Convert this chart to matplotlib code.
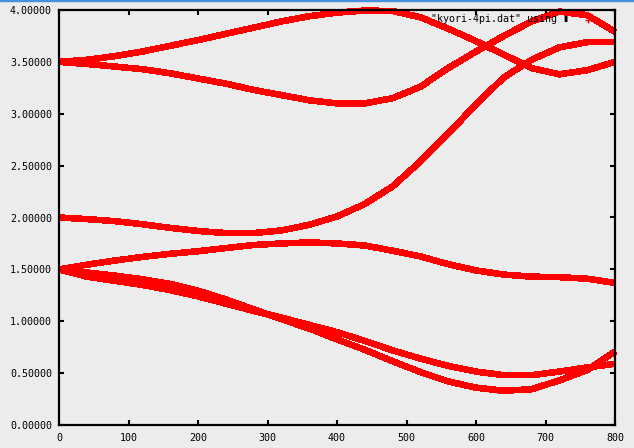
import matplotlib
matplotlib.use("Agg")
import matplotlib.pyplot as plt
from matplotlib.patches import Rectangle

# x grid of the readings (same for every curve)
x = [0, 40, 80, 120, 160, 200, 240, 280, 320, 360, 400,
     440, 480, 520, 560, 600, 640, 680, 720, 760, 800]

# curves starting at 3.5
upper_a = [3.50, 3.52, 3.555, 3.60, 3.655, 3.71, 3.77, 3.83, 3.89, 3.94, 3.975,
           3.995, 3.99, 3.93, 3.82, 3.70, 3.57, 3.44, 3.38, 3.42, 3.50]
upper_b = [3.50, 3.48, 3.455, 3.43, 3.39, 3.34, 3.29, 3.23, 3.18, 3.13, 3.10,
           3.10, 3.15, 3.26, 3.44, 3.60, 3.75, 3.89, 3.985, 3.95, 3.79]
# curve starting at 2.0
mid_c = [2.00, 1.985, 1.965, 1.935, 1.90, 1.87, 1.85, 1.85, 1.875, 1.93, 2.01,
         2.13, 2.30, 2.54, 2.81, 3.09, 3.35, 3.52, 3.64, 3.69, 3.69]
# curves starting at 1.5
low_d = [1.50, 1.545, 1.585, 1.62, 1.65, 1.675, 1.705, 1.735, 1.75, 1.76, 1.75,
         1.73, 1.68, 1.625, 1.55, 1.49, 1.45, 1.43, 1.425, 1.41, 1.37]
low_e1 = [1.50, 1.47, 1.44, 1.405, 1.36, 1.295, 1.21, 1.115, 1.02, 0.93, 0.825,
          0.725, 0.615, 0.51, 0.42, 0.36, 0.33, 0.345, 0.43, 0.53, 0.71]
low_e2 = [1.50, 1.43, 1.39, 1.35, 1.30, 1.24, 1.17, 1.10, 1.035, 0.965, 0.895,
          0.81, 0.72, 0.64, 0.57, 0.515, 0.48, 0.48, 0.515, 0.555, 0.59]

curves = [upper_a, upper_b, mid_c, low_d, low_e1, low_e2]
yticks = [0.0, 0.5, 1.0, 1.5, 2.0, 2.5, 3.0, 3.5, 4.0]
xticks = [0, 100, 200, 300, 400, 500, 600, 700, 800]

bg = "#ececec"
mono = "DejaVu Sans Mono"

fig = plt.figure(figsize=(6.34, 4.48), dpi=100, facecolor=bg)
ax = fig.add_axes([59 / 634, 23 / 448, 556 / 634, 415 / 448], facecolor=bg)

for ys in curves:
    ax.plot(x, ys, color="#ff0000", lw=4.0, solid_capstyle="butt",
            solid_joinstyle="round", antialiased=False, clip_on=False)

ax.set_xlim(0, 800)
ax.set_ylim(0, 4)
ax.set_xticks(xticks)
ax.set_yticks(yticks)
ax.set_xticklabels([str(v) for v in xticks], fontfamily=mono, fontsize=7.2)
ax.set_yticklabels([f"{v:.5f}" for v in yticks], fontfamily=mono, fontsize=7.2)
ax.tick_params(direction="in", top=True, right=True, length=3.5, width=1.5,
               colors="black")
ax.tick_params(axis="y", pad=5)
ax.tick_params(axis="x", pad=5.5)
for sp in ax.spines.values():
    sp.set_linewidth(1.6)
    sp.set_zorder(5)

# gnuplot style key
ax.text(0.917, 0.978, '"kyori-4pi.dat" using \u25ae', transform=ax.transAxes,
        ha="right", va="center", fontfamily=mono, fontsize=7.2)
ax.plot([0.951], [0.976], marker="+", color="#ff0000", ms=5, mew=1,
        transform=ax.transAxes, clip_on=False)

# window border strip at the top
fig.patches.append(Rectangle((0, 1 - 1.5 / 448), 1, 1.5 / 448,
                             transform=fig.transFigure, color="#4a8ee0"))

fig.savefig("out.png", dpi=100, facecolor=bg)
